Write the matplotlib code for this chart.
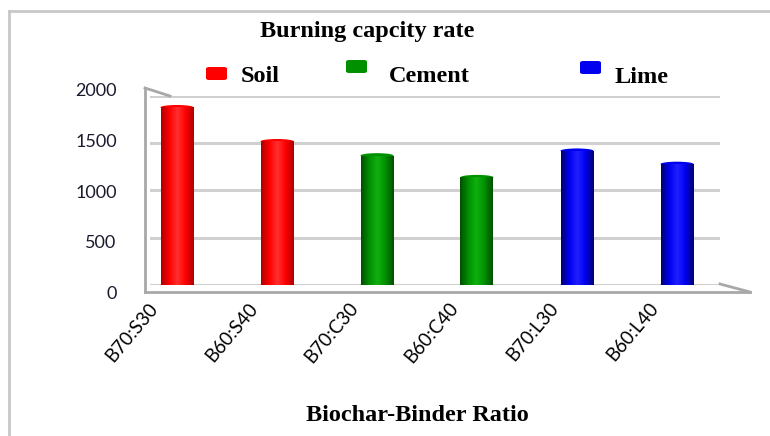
import numpy as np
import matplotlib.pyplot as plt
from matplotlib.patches import FancyBboxPatch, Ellipse
from matplotlib.lines import Line2D
from matplotlib.colors import LinearSegmentedColormap
import matplotlib.transforms as mtransforms

# Data
ratios = ['B70:S30', 'B60:S40', 'B70:C30', 'B60:C40', 'B70:L30', 'B60:L40']
burning_rate = [1880, 1520, 1370, 1140, 1420, 1280]
groups = ['Soil', 'Soil', 'Cement', 'Cement', 'Lime', 'Lime']
legend_names = ['Soil', 'Cement', 'Lime']

# Colours: (dark edge, body, highlight)
shades = {
    'Soil': ('#b00000', '#ff0000', '#ff3030'),
    'Cement': ('#005000', '#009000', '#10b010'),
    'Lime': ('#000070', '#0000f0', '#2020ff'),
}

W, H = 770, 436
fig = plt.figure(figsize=(7.7, 4.36), dpi=100)
serif = 'Liberation Serif'
sans = 'Lato'


def px(x, y):
    # pixel position -> figure fraction
    return x / W, 1 - y / H


# plot area (back wall)
x0, y0 = px(150, 285)
x1, y1 = px(720, 96)
ax = fig.add_axes([x0, y0, x1 - x0, y1 - y0])

xs = np.arange(len(ratios))
bar_w = 0.33
cap_h = 50  # height of the cylinder ends, in data units
bars = ax.bar(xs, burning_rate, width=bar_w, color='none', zorder=3)

# cylinder-like shading
for b, g in zip(bars, groups):
    dark, body, hi = shades[g]
    cx = b.get_x() + b.get_width() / 2
    for yy in (0, b.get_height()):
        ax.add_patch(Ellipse((cx, yy), b.get_width(), cap_h, facecolor=body,
                             edgecolor='none', zorder=2.9))
    cmap = LinearSegmentedColormap.from_list(g, [dark, body, hi, body, dark])
    grad = np.linspace(0, 1, 64).reshape(1, -1)
    im = ax.imshow(grad, cmap=cmap, aspect='auto', zorder=3,
                   extent=(b.get_x(), b.get_x() + b.get_width(), 0, b.get_height()))
    im.set_clip_path(b)

ax.set_xlim(-0.27, 5.43)
ax.set_ylim(0, 2000)
ax.set_yticks(np.arange(0, 2001, 500))
ax.grid(axis='y', color='#d0d0d0', linewidth=2.2, zorder=0)
ax.set_axisbelow(True)
for s in ['top', 'right', 'bottom', 'left']:
    ax.spines[s].set_visible(False)
ax.tick_params(axis='y', length=0, pad=24, labelsize=13, labelcolor='#1a1a2e')
ax.tick_params(axis='x', length=0, pad=0, labelsize=13.5)
# y labels sit on the front edge of the 3D box, which is a bit taller
for v, lab in zip(ax.get_yticks(), ax.get_yticklabels()):
    lab.set_fontfamily(sans)
    dy = (7 - v * 0.0065) / 100
    lab.set_transform(lab.get_transform() +
                      mtransforms.ScaledTranslation(0, -dy, fig.dpi_scale_trans))

ax.set_xticks(xs)
ax.set_xticklabels(ratios, rotation=50, ha='right', va='center',
                   rotation_mode='anchor', fontfamily=sans)
offset = mtransforms.ScaledTranslation(-0.22, -0.2, fig.dpi_scale_trans)
for lab in ax.get_xticklabels():
    lab.set_transform(lab.get_transform() + offset)

# edges of the 3D box
edges = [((145, 292), (750, 292)), ((720, 284), (750, 292)), ((145, 88), (145, 292)),
         ((145, 88), (170, 96))]
for (a, b) in edges:
    xa, ya = px(*a)
    xb, yb = px(*b)
    fig.add_artist(Line2D([xa, xb], [ya, yb], color='#a8a8a8', linewidth=2))

# frame lines of the picture (top and left only)
fig.add_artist(Line2D([9 / W, 1], [1 - 11 / H, 1 - 11 / H], color='#c8c8c8', linewidth=2))
fig.add_artist(Line2D([9 / W, 9 / W], [0, 1 - 11 / H], color='#c8c8c8', linewidth=2))

# title and axis label
tx, ty = px(367, 37)
fig.text(tx, ty, 'Burning capcity rate', ha='center', va='baseline',
         fontsize=17.5, fontweight='bold', fontfamily=serif)
lx, ly = px(417, 421)
fig.text(lx, ly, 'Biochar-Binder Ratio', ha='center', va='baseline',
         fontsize=17.5, fontweight='bold', fontfamily=serif)

# legend drawn by hand
marker_pos = [(206, 67), (346, 60), (580, 61)]
text_pos = [(241, 82), (389, 82), (615, 83)]
for name, (mx, my), (tx, ty) in zip(legend_names, marker_pos, text_pos):
    fx, fy = px(mx, my + 13)
    fig.add_artist(FancyBboxPatch((fx, fy), 21 / W, 13 / H,
                                  boxstyle='round,pad=0,rounding_size=0.004',
                                  transform=fig.transFigure,
                                  facecolor=shades[name][1], edgecolor='none'))
    fx, fy = px(tx, ty)
    fig.text(fx, fy, name, ha='left', va='baseline', fontsize=17.5,
             fontweight='bold', fontfamily=serif)

fig.savefig('out.png', dpi=100)
